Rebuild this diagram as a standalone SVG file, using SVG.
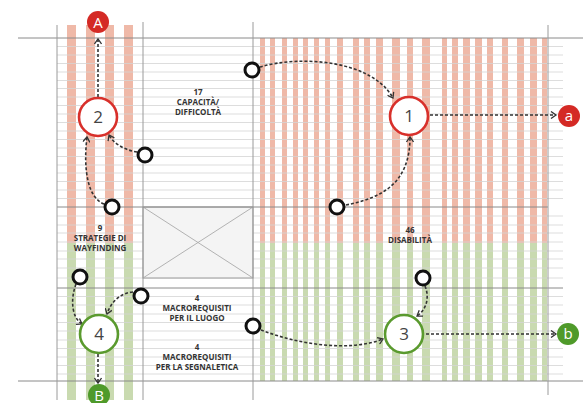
<svg xmlns="http://www.w3.org/2000/svg" width="583" height="403" viewBox="0 0 583 403">
<defs>
<style>
.r{fill:#efb9a8}
.g{fill:#c9dab0}
.hl{stroke:#d4d4d4;stroke-width:0.8;fill:none}
.vl{stroke:#9a9a9a;stroke-width:1;fill:none}
.dl{stroke:#8a8a8a;stroke-width:1;fill:none}
.con{stroke:#333;stroke-width:1.6;stroke-dasharray:3 2;fill:none;marker-end:url(#ah)}
.dot{fill:#fff;stroke:#111;stroke-width:3}
.nr{fill:#fff;stroke:#d8302b;stroke-width:2.6}
.ng{fill:#fff;stroke:#5a9a2e;stroke-width:2.6}
.num{font-family:"Open Sans","DejaVu Sans",sans-serif;font-size:17px;fill:#444;text-anchor:middle}
.ltr{font-family:"Open Sans","DejaVu Sans",sans-serif;font-size:15px;fill:#fff;text-anchor:middle}
.lbl{font-family:"Open Sans","DejaVu Sans",sans-serif;font-size:8px;font-weight:bold;fill:#333;text-anchor:middle}
</style>
<marker id="ah" viewBox="0 0 8 8" refX="6" refY="4" markerWidth="8" markerHeight="8" markerUnits="userSpaceOnUse" orient="auto">
<path d="M1,0.5 L6,4 L1,7.5" fill="none" stroke="#333" stroke-width="1.3"/>
</marker>
</defs>

<g id="stripes">
<g id="left-stripes">
<rect class="r" x="67" y="25" width="9" height="218"/>
<rect class="r" x="86" y="25" width="9" height="218"/>
<rect class="r" x="105" y="25" width="9" height="218"/>
<rect class="r" x="124" y="25" width="9" height="218"/>
<rect class="g" x="67" y="243" width="9" height="157"/>
<rect class="g" x="86" y="243" width="9" height="157"/>
<rect class="g" x="105" y="243" width="9" height="157"/>
<rect class="g" x="124" y="243" width="9" height="157"/>
</g>
<g id="right-stripes">
<g class="r">
<rect x="260" y="38" width="5" height="205"/><rect x="270" y="38" width="5" height="205"/><rect x="282" y="38" width="5" height="205"/><rect x="293" y="38" width="5" height="205"/><rect x="303" y="38" width="5" height="205"/><rect x="314" y="38" width="5" height="205"/><rect x="325" y="38" width="5" height="205"/><rect x="337" y="38" width="6" height="205"/><rect x="353" y="38" width="6" height="205"/><rect x="364" y="38" width="6" height="205"/><rect x="376" y="38" width="7" height="205"/><rect x="392" y="38" width="8" height="205"/><rect x="407" y="38" width="6" height="205"/><rect x="422" y="38" width="8" height="205"/><rect x="442" y="38" width="5" height="205"/><rect x="452" y="38" width="6" height="205"/><rect x="463" y="38" width="7" height="205"/><rect x="475" y="38" width="7" height="205"/><rect x="487" y="38" width="6" height="205"/><rect x="502" y="38" width="6" height="205"/><rect x="517" y="38" width="7" height="205"/><rect x="530" y="38" width="7" height="205"/><rect x="542" y="38" width="5" height="205"/>
</g>
<g class="g">
<rect x="260" y="243" width="5" height="138"/><rect x="270" y="243" width="5" height="138"/><rect x="282" y="243" width="5" height="138"/><rect x="293" y="243" width="5" height="138"/><rect x="303" y="243" width="5" height="138"/><rect x="314" y="243" width="5" height="138"/><rect x="325" y="243" width="5" height="138"/><rect x="337" y="243" width="6" height="138"/><rect x="353" y="243" width="6" height="138"/><rect x="364" y="243" width="6" height="138"/><rect x="376" y="243" width="7" height="138"/><rect x="392" y="243" width="8" height="138"/><rect x="407" y="243" width="6" height="138"/><rect x="422" y="243" width="8" height="138"/><rect x="442" y="243" width="5" height="138"/><rect x="452" y="243" width="6" height="138"/><rect x="463" y="243" width="7" height="138"/><rect x="475" y="243" width="7" height="138"/><rect x="487" y="243" width="6" height="138"/><rect x="502" y="243" width="6" height="138"/><rect x="517" y="243" width="7" height="138"/><rect x="530" y="243" width="7" height="138"/><rect x="542" y="243" width="5" height="138"/>
</g>
</g>
</g>

<g id="grid">
<path class="hl" d="M57,46.5H563M57,55H563M57,63.5H563M57,72H563M57,80.5H563M57,88.5H563M57,97H563M57,105.5H563M57,114H563M57,122.5H563M57,131H563M57,139.5H563M57,148H563M57,156.5H563M57,165H563M57,173H563M57,181.5H563M57,190H563M57,198.5H563"/>
<path class="hl" d="M57,216H143M253,216H563M57,225H143M253,225H563M57,233H143M253,233H563M57,242H143M253,242H563M57,251H143M253,251H563M57,259H143M253,259H563M57,268H143M253,268H563M57,278H563M57,296.5H563M57,305H563M57,314H563M57,322.5H563M57,331H563M57,340H563M57,348.5H563M57,357H563M57,365.5H563M57,374H563"/>
<path class="dl" d="M57,288H563"/>
<g id="cross-box">
<rect x="143" y="207" width="110" height="71" fill="#f4f4f4" stroke="#999" stroke-width="1"/>
<path d="M143,207L253,278M253,207L143,278" stroke="#aaa" stroke-width="0.9" fill="none"/>
</g>
<path class="dl" d="M18,38H583M57,207H548M18,381H583"/>
<path class="vl" d="M57,25V400M143,22V400M253,22V400M548,25V395"/>
</g>

<g id="connectors">
<path class="con" d="M260,67 C300,55 372,60 393,98"/>
<path class="con" d="M137,152 C124,150 113,143 109,135"/>
<path class="con" d="M104,204 C88,198 83,170 87,137"/>
<path class="con" d="M346,205 C380,198 410,185 410,137"/>
<path class="con" d="M76,284 C70,300 72,318 82,324"/>
<path class="con" d="M133,292 C120,293 111,302 107,314"/>
<path class="con" d="M261,330 C300,345 350,352 383,339"/>
<path class="con" d="M425,286 C430,298 426,310 417,316"/>
<path class="con" d="M430,115 L556,115"/>
<path class="con" d="M426,334 L556,334"/>
<path class="con" d="M98,97 L98,39"/>
<path class="con" d="M98,354 L98,383"/>
</g>

<g id="dot-1"><circle class="dot" cx="252" cy="70" r="7"/></g>
<g id="dot-2"><circle class="dot" cx="145" cy="155" r="7"/></g>
<g id="dot-3"><circle class="dot" cx="112" cy="207" r="7"/></g>
<g id="dot-4"><circle class="dot" cx="337" cy="207" r="7"/></g>
<g id="dot-5"><circle class="dot" cx="80" cy="277" r="7"/></g>
<g id="dot-6"><circle class="dot" cx="141" cy="296" r="7"/></g>
<g id="dot-7"><circle class="dot" cx="253" cy="326" r="7"/></g>
<g id="dot-8"><circle class="dot" cx="423" cy="278" r="7"/></g>

<g id="node-1"><circle class="nr" cx="409" cy="116" r="19"/><text class="num" x="409" y="122">1</text></g>
<g id="node-2"><circle class="nr" cx="98" cy="117" r="19"/><text class="num" x="98" y="123">2</text></g>
<g id="node-3"><circle class="ng" cx="404" cy="334" r="19"/><text class="num" x="404" y="340">3</text></g>
<g id="node-4"><circle class="ng" cx="99" cy="334" r="19"/><text class="num" x="99" y="340">4</text></g>

<g id="node-A"><circle cx="98" cy="22" r="11" fill="#d42a25"/><text class="ltr" x="98" y="27.5">A</text></g>
<g id="node-a"><circle cx="569" cy="116" r="11" fill="#d42a25"/><text class="ltr" x="569" y="121">a</text></g>
<g id="node-b"><circle cx="568" cy="334" r="11" fill="#4f9a2a"/><text class="ltr" x="568" y="339">b</text></g>
<g id="node-B"><circle cx="99" cy="395" r="11" fill="#4f9a2a"/><text class="ltr" x="99" y="400.5">B</text></g>

<g id="labels">
<text class="lbl" x="198" y="95">17</text>
<text class="lbl" x="198" y="105">CAPACITÀ/</text>
<text class="lbl" x="198" y="115">DIFFICOLTÀ</text>
<text class="lbl" x="100" y="231">9</text>
<text class="lbl" x="100" y="241">STRATEGIE DI</text>
<text class="lbl" x="100" y="251">WAYFINDING</text>
<text class="lbl" x="410" y="233">46</text>
<text class="lbl" x="410" y="243">DISABILITÀ</text>
<text class="lbl" x="197" y="301">4</text>
<text class="lbl" x="197" y="311">MACROREQUISITI</text>
<text class="lbl" x="197" y="321">PER IL LUOGO</text>
<text class="lbl" x="197" y="350">4</text>
<text class="lbl" x="197" y="360">MACROREQUISITI</text>
<text class="lbl" x="197" y="370">PER LA SEGNALETICA</text>
</g>
</svg>
